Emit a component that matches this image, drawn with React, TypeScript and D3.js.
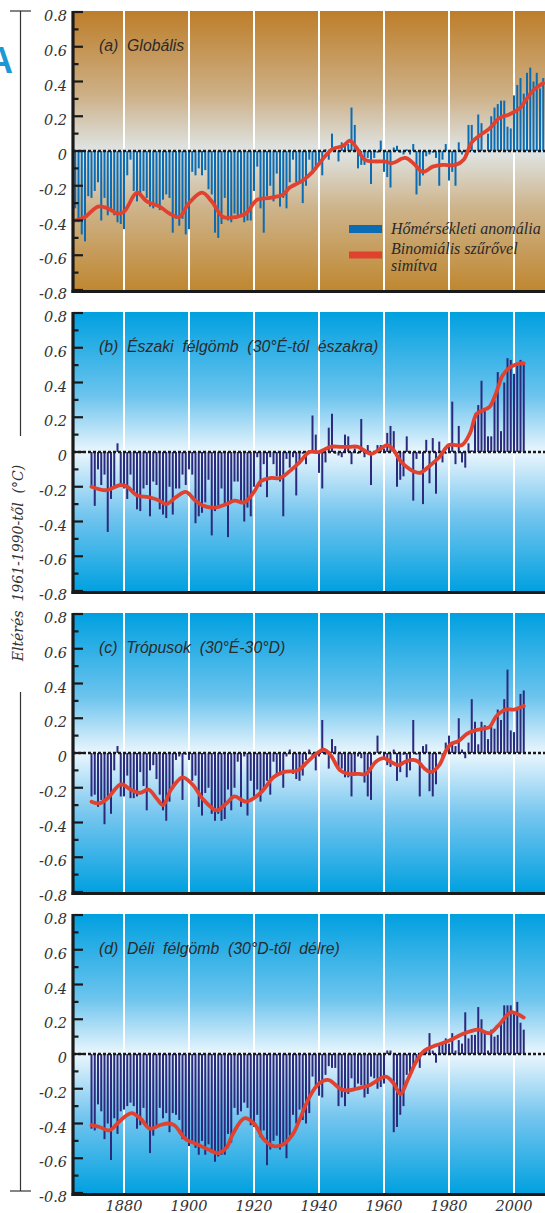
import React from 'react';
import * as d3 from 'd3';

// Annual anomalies (°C, relative to 1961-1990)
const globalStart = 1865;
const globalAnom = [
  -0.33, -0.41, -0.48, -0.52, -0.26, -0.27, -0.23, -0.18, -0.40, -0.27,
  -0.37, -0.34, -0.37, -0.41, -0.42, -0.45, -0.14, -0.05, -0.23, -0.29,
  -0.26, -0.23, -0.27, -0.32, -0.33, -0.32, -0.34, -0.28, -0.25, -0.27,
  -0.47, -0.39, -0.43, -0.39, -0.48, -0.45, -0.12, -0.14, -0.10, -0.14,
  -0.11, -0.22, -0.25, -0.47, -0.50, -0.42, -0.27, -0.40, -0.41, -0.36,
  -0.37, -0.38, -0.41, -0.40, -0.40, -0.23, -0.09, -0.33, -0.47, -0.26,
  -0.20, -0.29, -0.13, -0.32, -0.27, -0.33, -0.18, -0.05,
  -0.18, -0.19, -0.30, -0.20, -0.05, -0.13, -0.11, -0.08, -0.14, 0.01,
  -0.05, 0.10, 0.02, -0.06, 0.05, 0.03, 0.04, 0.25, 0.15, -0.10,
  -0.08, -0.08, -0.04, -0.19, -0.04, -0.01, 0.06, -0.12, -0.15, -0.21,
  0.02, 0.03, -0.01, -0.02, 0.01, -0.02, 0.04, -0.25, -0.20, -0.14,
  -0.03, -0.02, -0.01, -0.04, -0.20, -0.05, 0.04, -0.17, -0.12, -0.20,
  0.05, -0.02, 0.00, 0.15, 0.15, -0.01, 0.21, 0.16, 0.00, 0.10,
  0.20, 0.25, 0.27, 0.29, 0.29, 0.14, 0.13, 0.32, 0.38, 0.42,
  0.33, 0.45, 0.48, 0.40, 0.45, 0.36, 0.42,
];

const hemiStart = 1870;
const northAnom = [
  -0.19, -0.31, -0.10, -0.19, -0.13, -0.46, -0.27, -0.20, 0.05, -0.20,
  -0.21, -0.27, -0.13, -0.23, -0.33, -0.34, -0.21, -0.19, -0.37, -0.17,
  -0.19, -0.33, -0.36, -0.38, -0.20, -0.36, -0.21, -0.21, -0.13, -0.19,
  -0.10, -0.13, -0.41, -0.37, -0.35, -0.29, -0.16, -0.48, -0.34, -0.31,
  -0.21, -0.30, -0.49, -0.28, -0.17, -0.17, -0.30, -0.40, -0.32, -0.37,
  -0.20, -0.03, -0.20, -0.07, -0.26, -0.03, -0.07, -0.14, -0.17, -0.37,
  -0.04, -0.09, -0.03, -0.25, -0.07, -0.01, -0.07, 0.01, 0.21, 0.10,
  -0.12, -0.21, -0.06, 0.14, 0.22, -0.01, -0.02, -0.03, 0.10, 0.09,
  -0.07, 0.02, -0.01, 0.19, -0.03, 0.04, -0.19, -0.01, 0.04, 0.04,
  0.02, 0.11, 0.15, 0.12, -0.20, -0.16, -0.14, 0.09, -0.01, -0.28,
  -0.04, -0.01, -0.30, 0.07, -0.18, 0.08, -0.24, 0.06, -0.06, -0.01,
  0.03, 0.29, -0.07, 0.15, -0.06, -0.09, 0.05, 0.01, 0.22, 0.27,
  0.41, 0.24, 0.09, 0.09, 0.30, 0.46, 0.12, 0.40, 0.54, 0.53,
  0.45, 0.51, 0.53, 0.51,
];
const tropicsAnom = [
  -0.25, -0.24, -0.31, -0.27, -0.41, -0.25, -0.35, -0.10, 0.04, -0.25,
  -0.25, -0.13, -0.26, -0.26, -0.25, -0.11, -0.19, -0.33, -0.10, -0.07,
  -0.15, -0.24, -0.33, -0.39, -0.28, -0.20, -0.04, -0.02, -0.27, -0.01,
  -0.04, -0.16, -0.13, -0.31, -0.36, -0.23, -0.20, -0.35, -0.39, -0.35,
  -0.39, -0.38, -0.21, -0.33, -0.20, -0.05, -0.31, -0.02, -0.36, -0.16,
  -0.25, -0.21, -0.28, -0.21, -0.16, -0.24, -0.05, -0.12, -0.12, -0.20,
  -0.02, 0.02, -0.12, -0.15, -0.16, -0.13, -0.04, 0.02, -0.02, -0.10,
  -0.02, 0.19, -0.01, -0.09, 0.08, 0.04, -0.08, -0.09, -0.14, -0.14,
  -0.25, -0.12, -0.02, -0.03, -0.17, -0.25, -0.27, -0.01, 0.10, 0.01,
  -0.03, -0.07, -0.08, 0.02, -0.16, -0.11, -0.01, -0.14, -0.10, 0.19,
  -0.01, -0.25, 0.04, 0.05, -0.22, -0.25, -0.18, 0.00, -0.03, 0.06,
  0.10, 0.06, 0.04, 0.20, 0.02, -0.03, 0.06, 0.31, 0.18, 0.05,
  0.18, 0.16, 0.08, 0.15, 0.14, 0.25, 0.19, 0.31, 0.48, 0.13,
  0.12, 0.25, 0.34, 0.36,
];
const southAnom = [
  -0.43, -0.44, -0.29, -0.33, -0.49, -0.40, -0.61, -0.37, -0.46, -0.33,
  -0.32, -0.30, -0.28, -0.30, -0.43, -0.41, -0.31, -0.41, -0.57, -0.47,
  -0.41, -0.31, -0.37, -0.34, -0.45, -0.34, -0.35, -0.38, -0.49, -0.48,
  -0.53, -0.50, -0.54, -0.58, -0.50, -0.58, -0.52, -0.57, -0.62, -0.59,
  -0.58, -0.58, -0.46, -0.51, -0.31, -0.35, -0.33, -0.28, -0.31, -0.41,
  -0.42, -0.35, -0.48, -0.44, -0.64, -0.55, -0.50, -0.47, -0.55, -0.53,
  -0.60, -0.47, -0.35, -0.40, -0.32, -0.38, -0.40, -0.34, -0.13, -0.18,
  -0.24, -0.25, -0.12, -0.07, -0.08, -0.08, -0.30, -0.25, -0.30, -0.23,
  -0.14, -0.20, -0.17, -0.18, -0.25, -0.23, -0.13, -0.14, -0.20, -0.19,
  -0.17, 0.02, 0.02, -0.45, -0.42, -0.35, -0.30, -0.12, -0.11, -0.08,
  -0.05, -0.08, 0.01, 0.03, 0.12, 0.02, -0.05, 0.06, 0.06, 0.09,
  0.06, 0.12, 0.02, 0.08, 0.06, 0.24, 0.09, 0.11, 0.11, 0.27,
  0.20, 0.12, 0.02, 0.14, 0.10, 0.11, 0.18, 0.28, 0.28, 0.28,
  0.24, 0.30, 0.18, 0.14,
];

// Binomially smoothed curves, [year, value]
const globalSmooth = [
  [1865, -0.40], [1868, -0.38], [1872, -0.32], [1875, -0.33], [1878, -0.36], [1880, -0.35],
  [1884, -0.24], [1887, -0.29], [1891, -0.32], [1894, -0.36], [1897, -0.38], [1900, -0.30],
  [1904, -0.24], [1907, -0.29], [1910.5, -0.38], [1914.5, -0.38], [1917.5, -0.36], [1921, -0.28],
  [1925, -0.27], [1929, -0.25], [1931, -0.21], [1935, -0.17], [1938, -0.12], [1941, -0.05],
  [1944, 0.01], [1947.5, 0.03], [1949.5, 0.06], [1951.5, 0.02], [1954, -0.05], [1957, -0.06],
  [1960, -0.06], [1962.5, -0.07], [1966.5, -0.04], [1969, -0.07], [1972, -0.12], [1975, -0.09],
  [1978, -0.08], [1982, -0.08], [1984.5, -0.05], [1987, 0.05], [1989.5, 0.09], [1992.5, 0.13],
  [1995.5, 0.19], [1998.5, 0.21], [2002, 0.25], [2003.5, 0.29], [2006, 0.35], [2009, 0.39],
];
const northSmooth = [
  [1870, -0.20], [1874.5, -0.22], [1879, -0.19], [1881, -0.20], [1884, -0.25], [1887.5, -0.26],
  [1891, -0.28], [1893, -0.30], [1896, -0.26], [1899, -0.23], [1902, -0.28], [1904.5, -0.31],
  [1908, -0.32], [1911.5, -0.30], [1914, -0.28], [1917, -0.29], [1920, -0.23], [1922, -0.17],
  [1925, -0.15], [1928, -0.15], [1931, -0.11], [1934, -0.06], [1937, 0.0], [1940, 0.0],
  [1943.5, 0.03], [1946.5, 0.03], [1949.5, 0.03], [1952, 0.03], [1956, -0.01], [1959, 0.02],
  [1961, 0.04], [1963, 0.01], [1965, -0.05], [1968, -0.10], [1971, -0.12], [1974, -0.08],
  [1977, -0.03], [1980, 0.04], [1984, 0.04], [1986.5, 0.11], [1988.5, 0.22], [1990.5, 0.24],
  [1992.5, 0.26], [1994.5, 0.34], [1996.5, 0.44], [1999, 0.49], [2002, 0.51], [2003, 0.51],
];
const tropicsSmooth = [
  [1870, -0.28], [1872.5, -0.29], [1875, -0.26], [1879, -0.18], [1882, -0.21], [1885, -0.23],
  [1887.5, -0.21], [1890, -0.26], [1892, -0.30], [1894.5, -0.21], [1898, -0.14], [1901, -0.18],
  [1904.5, -0.27], [1908.5, -0.33], [1911.5, -0.29], [1914, -0.25], [1917.5, -0.28], [1922, -0.23],
  [1926, -0.14], [1929, -0.11], [1933.5, -0.10], [1936.5, -0.05], [1939.5, 0.0], [1941.5, 0.02],
  [1943.5, -0.01], [1946.5, -0.10], [1949, -0.12], [1952, -0.12], [1954.5, -0.12], [1957.5, -0.05],
  [1960, -0.03], [1962, -0.05], [1964.5, -0.07], [1966.5, -0.05], [1969, -0.04], [1970.5, -0.05],
  [1972.5, -0.09], [1974.5, -0.11], [1977, -0.07], [1979, 0.01], [1980.5, 0.05], [1983, 0.07],
  [1985.5, 0.11], [1988, 0.13], [1990.5, 0.14], [1992.5, 0.15], [1994.5, 0.21], [1997.5, 0.25],
  [2000, 0.25], [2003, 0.27],
];
const southSmooth = [
  [1870, -0.41], [1872.5, -0.42], [1875.5, -0.44], [1878.5, -0.39], [1881, -0.35], [1882.5, -0.34],
  [1885, -0.37], [1888, -0.43], [1891, -0.41], [1893.5, -0.40], [1895.5, -0.41], [1899, -0.49],
  [1902.5, -0.52], [1906, -0.55], [1909, -0.57], [1911.5, -0.54], [1913.5, -0.46], [1917, -0.37],
  [1920, -0.40], [1923, -0.49], [1926, -0.53], [1929, -0.52], [1932, -0.46], [1934, -0.38],
  [1937, -0.25], [1940, -0.17], [1943, -0.15], [1946.5, -0.20], [1948.5, -0.21], [1951.5, -0.20],
  [1955.5, -0.18], [1960.5, -0.13], [1963, -0.17], [1965, -0.23], [1967.5, -0.14], [1970, -0.04],
  [1972.5, 0.02], [1976, 0.05], [1980.5, 0.08], [1983.5, 0.11], [1986.5, 0.13], [1989, 0.14],
  [1992.5, 0.12], [1995, 0.16], [1999, 0.24], [2001, 0.23], [2003, 0.21],
];

const yTicks = [0.8, 0.6, 0.4, 0.2, 0, -0.2, -0.4, -0.6, -0.8];
const yMinor = [0.7, 0.5, 0.3, 0.1, -0.1, -0.3, -0.5, -0.7];
const yearTicks = [1880, 1900, 1920, 1940, 1960, 1980, 2000];

const panelTitles = [
  '(a)  Globális',
  '(b)  Északi  félgömb  (30°É-tól  északra)',
  '(c)  Trópusok  (30°É-30°D)',
  '(d)  Déli  félgömb  (30°D-től  délre)',
];
const legendLabels = ['Hőmérsékleti  anomália', 'Binomiális  szűrővel', 'simítva'];
const yTitle = 'Eltérés  1961-1990-től  (°C)';

const W = 545;
const H = 1213;
const AXIS_X = 73;
const PANEL_H = 278;
const panelTops = [12, 313, 614, 915];

const serif = '"DejaVu Serif", serif';
const legendFont = '"Liberation Serif", serif';
const sans = '"Liberation Sans", Arial, sans-serif';
const RED = '#e1412f';

const x = d3.scaleLinear().domain([1880, 2000]).range([124, 514]);

const panels = [
  { start: globalStart, values: globalAnom, smooth: globalSmooth, bar: '#0b6cb4', bg: 'bgBrown' },
  { start: hemiStart, values: northAnom, smooth: northSmooth, bar: '#2b2a7c', bg: 'bgBlue' },
  { start: hemiStart, values: tropicsAnom, smooth: tropicsSmooth, bar: '#2b2a7c', bg: 'bgBlue' },
  { start: hemiStart, values: southAnom, smooth: southSmooth, bar: '#2b2a7c', bg: 'bgBlue' },
];

function Panel({ idx }: { idx: number }) {
  const p = panels[idx];
  const top = panelTops[idx];
  const bottom = top + PANEL_H;
  const y = d3.scaleLinear().domain([-0.8, 0.8]).range([bottom, top]);
  const line = d3
    .line<number[]>()
    .x((d) => x(d[0]))
    .y((d) => y(d[1]))
    .curve(d3.curveCatmullRom.alpha(0.5));

  return (
    <g>
      <rect x={AXIS_X} y={top - 1} width={W - AXIS_X} height={PANEL_H + 2} fill={`url(#${p.bg})`} />
      {yearTicks.map((t) => (
        <line key={t} x1={x(t)} x2={x(t)} y1={top - 1} y2={bottom} stroke="#fff" strokeWidth={2} />
      ))}
      {p.values.map((v, i) => {
        const yr = p.start + i;
        const y0 = y(0);
        const y1 = y(v);
        return (
          <rect
            key={yr}
            x={x(yr) - 1}
            y={Math.min(y0, y1)}
            width={2}
            height={Math.abs(y1 - y0)}
            fill={p.bar}
          />
        );
      })}
      <line x1={AXIS_X} x2={W} y1={y(0)} y2={y(0)} stroke="#1a1a1a" strokeWidth={2.5} strokeDasharray="3,2" />
      <path d={line(p.smooth as number[][]) || ''} fill="none" stroke={RED} strokeWidth={3.8} strokeLinejoin="round" strokeLinecap="round" />
      {/* axis */}
      <line x1={AXIS_X} x2={AXIS_X} y1={top - 1} y2={bottom + 3} stroke="#1a1a1a" strokeWidth={3.2} />
      <line x1={AXIS_X - 1.5} x2={W} y1={bottom + 1.5} y2={bottom + 1.5} stroke="#1a1a1a" strokeWidth={3} />
      {yTicks.map((t) => (
        <g key={t}>
          <line x1={AXIS_X} x2={AXIS_X + 10} y1={y(t)} y2={y(t)} stroke="#1a1a1a" strokeWidth={2.2} />
          <text
            x={67}
            y={y(t) + 9}
            textAnchor="end"
            fontFamily={serif}
            fontStyle="italic"
            fontSize={14.5}
            fill="#333"
          >
            {t === 0 ? '0' : t.toFixed(1)}
          </text>
        </g>
      ))}
      {yMinor.map((t) => (
        <line key={t} x1={AXIS_X} x2={AXIS_X + 5.5} y1={y(t)} y2={y(t)} stroke="#1a1a1a" strokeWidth={2.2} />
      ))}
      <text
        x={99}
        y={top + 39}
        fontFamily={sans}
        fontStyle="italic"
        fontSize={15.8}
        fill="#2a2a2a"
        style={{ whiteSpace: 'pre' }}
      >
        {panelTitles[idx]}
      </text>
    </g>
  );
}

export default function App() {
  const lastBottom = panelTops[3] + PANEL_H;
  return (
    <svg
      width={W}
      height={H}
      style={{ position: 'absolute', left: 0, top: 0, background: '#fff' }}
    >
      <defs>
        <linearGradient id="bgBrown" x1="0" y1="0" x2="0" y2="1">
          <stop offset="0%" stopColor="#bd7e2a" />
          <stop offset="30%" stopColor="#cdb087" />
          <stop offset="50%" stopColor="#dfe5e5" />
          <stop offset="70%" stopColor="#ceb48c" />
          <stop offset="100%" stopColor="#bf8730" />
        </linearGradient>
        <linearGradient id="bgBlue" x1="0" y1="0" x2="0" y2="1">
          <stop offset="0%" stopColor="#00a0e0" />
          <stop offset="30%" stopColor="#6cc4ee" />
          <stop offset="50%" stopColor="#eaf6fd" />
          <stop offset="72%" stopColor="#76c6ef" />
          <stop offset="100%" stopColor="#00a0e0" />
        </linearGradient>
      </defs>

      {/* partial blue letter at left edge, cropped as in the source page */}
      <text x={13} y={73} textAnchor="end" fontFamily={sans} fontWeight="bold" fontSize={36} fill="#1b98d6">
        A
      </text>

      {/* bracket for the y-axis title */}
      <line x1={10} x2={31} y1={11} y2={11} stroke="#333" strokeWidth={1.2} />
      <line x1={20.5} x2={20.5} y1={11} y2={436} stroke="#333" strokeWidth={1.2} />
      <line x1={20.5} x2={20.5} y1={692} y2={lastBottom - 2} stroke="#333" strokeWidth={1.2} />
      <line x1={10} x2={31} y1={lastBottom - 2} y2={lastBottom - 2} stroke="#333" strokeWidth={1.2} />
      <text
        transform="translate(23,563) rotate(-90)"
        textAnchor="middle"
        fontFamily={serif}
        fontStyle="italic"
        fontSize={14}
        fill="#333"
        style={{ whiteSpace: 'pre' }}
      >
        {yTitle}
      </text>

      {panels.map((_, i) => (
        <Panel key={i} idx={i} />
      ))}

      {/* legend in panel (a) */}
      <rect x={349} y={225} width={33} height={8} fill="#0b6cb4" />
      <rect x={349} y={251.5} width={33} height={7} fill={RED} />
      <g fontFamily={legendFont} fontStyle="italic" fontSize={16} fill="#2a2a2a" style={{ whiteSpace: 'pre' }}>
        <text x={391} y={234}>{legendLabels[0]}</text>
        <text x={391} y={254}>{legendLabels[1]}</text>
        <text x={391} y={271}>{legendLabels[2]}</text>
      </g>

      {yearTicks.map((t) => (
        <text
          key={t}
          x={x(t)}
          y={1211}
          textAnchor="middle"
          fontFamily={serif}
          fontStyle="italic"
          fontSize={14.5}
          fill="#333"
        >
          {t}
        </text>
      ))}
    </svg>
  );
}
